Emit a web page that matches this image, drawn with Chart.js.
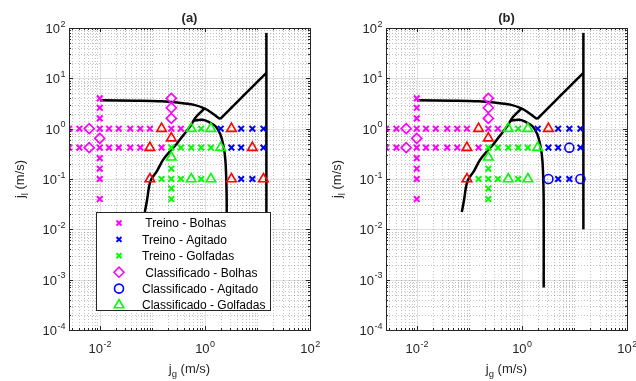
<!DOCTYPE html>
<html>
<head>
<meta charset="utf-8">
<script src="https://cdn.jsdelivr.net/npm/chart.js@4.4.1/dist/chart.umd.min.js"></script>
<style>
  body { margin: 0; background: #fff; }
  .painel { position: absolute; top: 0; height: 381px; }
</style>
</head>
<body>
<div class="painel" style="left:0;width:330px"><canvas id="graficoA" width="330" height="381"></canvas></div>
<div class="painel" style="left:317px;width:319px"><canvas id="graficoB" width="319" height="381"></canvas></div>
<script>
// limites dos eixos e ticks rotulados
const X_MIN = 0.0026, X_MAX = 100;
const Y_MIN = 1e-4, Y_MAX = 100;
const xTicks = [1e-2, 1, 1e2];
const yTicks = [1e-4, 1e-3, 1e-2, 1e-1, 1, 1e1, 1e2];

// pontos de treino [jg, jl] (m/s)
const treinoBolhas = [
    [0.0026, 1.0], [0.0041, 1.0], [0.01, 1.0], [0.015, 1.0], [0.023, 1.0], [0.038, 1.0],
    [0.059, 1.0], [0.09, 1.0], [0.23, 1.0], [0.35, 1.0],
    [0.0026, 0.42], [0.0041, 0.42], [0.01, 0.42], [0.015, 0.42], [0.023, 0.42], [0.038, 0.42],
    [0.059, 0.42], [0.15, 0.42],
    [0.01, 4.0], [0.01, 2.6], [0.01, 1.6], [0.01, 0.26], [0.01, 0.16], [0.01, 0.1], [0.01, 0.04]
];
const treinoAgitado = [
    [2.0, 1.0], [4.9, 1.0], [8.0, 1.0], [13, 1.0],
    [3.2, 0.42], [4.9, 0.42], [13, 0.42],
    [4.9, 0.1], [8.0, 0.1]
];
const treinoGolfadas = [
    [0.85, 1.0],
    [0.23, 0.42], [0.35, 0.42], [0.55, 0.42], [0.85, 0.42], [1.3, 0.42],
    [0.15, 0.1], [0.23, 0.1], [0.35, 0.1], [0.85, 0.1],
    [0.23, 0.16], [0.23, 0.065], [0.23, 0.04]
];

// pontos classificados
const classBolhas = [[0.0063, 1.0], [0.0063, 0.42], [0.01, 0.64], [0.23, 4.0], [0.23, 2.6], [0.23, 1.6]];
const classGolfadas = [[0.55, 1.0], [1.3, 1.0], [2.0, 0.42], [0.23, 0.27], [0.55, 0.1], [1.3, 0.1]];
const classAgitadoA = [];
const classAgitadoB = [[8.0, 0.42], [3.2, 0.1], [13, 0.1]];
const errosA = [[0.15, 1.0], [3.2, 1.0], [0.09, 0.42], [8.0, 0.42], [0.09, 0.1], [3.2, 0.1], [13, 0.1], [0.23, 0.65]];
const errosB = [[0.15, 1.0], [3.2, 1.0], [0.09, 0.42], [0.09, 0.1], [0.23, 0.65]];

// fronteiras de transicao
const curvaSuperior = [[0.01, 3.66], [0.05, 3.6], [0.15, 3.5], [0.3, 3.3], [0.6, 3.0], [1.0, 2.5], [1.4, 2.0], [1.95, 1.55]];
const retaAgitado = [[1.95, 1.55], [14.8, 12.9]];
const retaVertical = [[14.8, 0.01], [14.8, 80]];
const curvaEsquerda = [[0.072, 0.022], [0.079, 0.037], [0.092, 0.09], [0.123, 0.145], [0.16, 0.24], [0.22, 0.36],
    [0.3, 0.52], [0.4, 0.77], [0.55, 1.2], [0.66, 1.65], [0.98, 2.5]];
const cupula = [[0.6, 1.45], [0.9, 1.5], [1.2, 1.35], [1.58, 1.13], [1.97, 0.77], [2.29, 0.42], [2.46, 0.23],
    [2.55, 0.1], [2.6, 0.037], [2.6, 0.0007]];

const FONTE = '"Liberation Sans", Arial, sans-serif';
const COR_EIXO = '#262626';

const pts = (arr) => arr.map(p => ({ x: p[0], y: p[1] }));

const marcador = (label, data, estilo, cor, raio, borda, legenda = true) => ({
    label: label,
    data: pts(data),
    pointStyle: estilo,
    pointRadius: raio,
    pointHoverRadius: raio,
    pointBorderWidth: borda,
    pointBorderColor: cor,
    pointBackgroundColor: 'rgba(0,0,0,0)',
    showLine: false,
    naLegenda: legenda
});

const linha = (data) => ({
    label: '',
    data: pts(data),
    showLine: true,
    borderColor: '#000',
    borderWidth: 2.5,
    pointRadius: 0,
    tension: 0.35,
    fill: false,
    naLegenda: false
});

const potencia = (ctx, val, x, y, alinhar) => {
    const e = String(Math.round(Math.log10(val)));
    ctx.font = '13px ' + FONTE;
    const w1 = ctx.measureText('10').width;
    ctx.font = '9px ' + FONTE;
    const w2 = ctx.measureText(e).width;
    const x0 = alinhar === 'center' ? x - (w1 + w2) / 2 : x - (w1 + w2);
    ctx.textAlign = 'left';
    ctx.textBaseline = 'alphabetic';
    ctx.font = '13px ' + FONTE;
    ctx.fillText('10', x0, y);
    ctx.font = '9px ' + FONTE;
    ctx.fillText(e, x0 + w1 + 0.5, y - 6.5);
};

const subscrito = (ctx, base, sub, resto, x, y) => {
    ctx.textAlign = 'left';
    ctx.textBaseline = 'alphabetic';
    ctx.font = '13px ' + FONTE;
    const w1 = ctx.measureText(base).width;
    const w3 = ctx.measureText(resto).width;
    ctx.font = '9.5px ' + FONTE;
    const w2 = ctx.measureText(sub).width;
    const x0 = x - (w1 + w2 + w3) / 2;
    ctx.font = '13px ' + FONTE;
    ctx.fillText(base, x0, y);
    ctx.fillText(resto, x0 + w1 + w2, y);
    ctx.font = '9.5px ' + FONTE;
    ctx.fillText(sub, x0 + w1, y + 4);
};

const moldura = {
    id: 'moldura',
    beforeDatasetsDraw(chart) {
        const { ctx, chartArea: a, scales: { x, y } } = chart;
        ctx.save();
        ctx.lineWidth = 1;
        // grade secundaria pontilhada
        ctx.strokeStyle = 'rgba(38,38,38,0.28)';
        ctx.setLineDash([1, 2]);
        for (let k = -3; k <= 2; k++) {
            for (let m = 1; m <= 9; m++) {
                const v = m * Math.pow(10, k);
                if (v <= X_MIN || v >= X_MAX || xTicks.some(t => Math.abs(t - v) / t < 1e-6)) continue;
                const px = Math.round(x.getPixelForValue(v)) + 0.5;
                ctx.beginPath(); ctx.moveTo(px, a.top); ctx.lineTo(px, a.bottom); ctx.stroke();
            }
        }
        for (let k = -4; k <= 1; k++) {
            for (let m = 2; m <= 9; m++) {
                const v = m * Math.pow(10, k);
                const py = Math.round(y.getPixelForValue(v)) + 0.5;
                ctx.beginPath(); ctx.moveTo(a.left, py); ctx.lineTo(a.right, py); ctx.stroke();
            }
        }
        // grade principal
        ctx.setLineDash([]);
        ctx.strokeStyle = 'rgba(38,38,38,0.14)';
        xTicks.forEach(v => {
            const px = Math.round(x.getPixelForValue(v)) + 0.5;
            ctx.beginPath(); ctx.moveTo(px, a.top); ctx.lineTo(px, a.bottom); ctx.stroke();
        });
        yTicks.forEach(v => {
            const py = Math.round(y.getPixelForValue(v)) + 0.5;
            ctx.beginPath(); ctx.moveTo(a.left, py); ctx.lineTo(a.right, py); ctx.stroke();
        });
        ctx.restore();
    },
    afterDraw(chart, args, opts) {
        const { ctx, chartArea: a, scales: { x, y } } = chart;
        ctx.save();
        ctx.strokeStyle = COR_EIXO;
        ctx.fillStyle = COR_EIXO;
        ctx.lineWidth = 1;
        ctx.setLineDash([]);

        // ticks internos
        const tickX = (v, len) => {
            const px = Math.round(x.getPixelForValue(v)) + 0.5;
            ctx.beginPath();
            ctx.moveTo(px, a.bottom); ctx.lineTo(px, a.bottom - len);
            ctx.moveTo(px, a.top); ctx.lineTo(px, a.top + len);
            ctx.stroke();
        };
        const tickY = (v, len) => {
            const py = Math.round(y.getPixelForValue(v)) + 0.5;
            ctx.beginPath();
            ctx.moveTo(a.left, py); ctx.lineTo(a.left + len, py);
            ctx.moveTo(a.right, py); ctx.lineTo(a.right - len, py);
            ctx.stroke();
        };
        for (let k = -3; k <= 2; k++) {
            for (let m = 1; m <= 9; m++) {
                const v = m * Math.pow(10, k);
                if (v <= X_MIN || v >= X_MAX) continue;
                tickX(v, xTicks.some(t => Math.abs(t - v) / t < 1e-6) ? 4 : 2);
            }
        }
        for (let k = -4; k <= 1; k++) {
            for (let m = 1; m <= 9; m++) {
                const v = m * Math.pow(10, k);
                if (v <= Y_MIN) continue;
                tickY(v, m === 1 ? 4 : 2);
            }
        }

        // caixa dos eixos
        ctx.strokeRect(Math.round(a.left) + 0.5, Math.round(a.top) + 0.5,
            Math.round(a.right - a.left), Math.round(a.bottom - a.top));

        // rotulos dos ticks
        xTicks.forEach(v => potencia(ctx, v, x.getPixelForValue(v), a.bottom + 23, 'center'));
        yTicks.forEach(v => potencia(ctx, v, a.left - 4, y.getPixelForValue(v) + 5, 'right'));

        // titulos
        const cx = (a.left + a.right) / 2;
        subscrito(ctx, 'j', 'g', ' (m/s)', cx, a.bottom + 43);
        ctx.save();
        ctx.translate(a.left - 45, (a.top + a.bottom) / 2);
        ctx.rotate(-Math.PI / 2);
        subscrito(ctx, 'j', 'l', ' (m/s)', 0, 0);
        ctx.restore();
        ctx.font = 'bold 13px ' + FONTE;
        ctx.textAlign = 'center';
        ctx.textBaseline = 'alphabetic';
        ctx.fillText(opts.titulo, cx, 22);

        // legenda
        if (opts.legenda) {
            const L = opts.legenda;
            ctx.fillStyle = '#fff';
            ctx.fillRect(L.x, L.y, L.w, L.h);
            ctx.strokeStyle = COR_EIXO;
            ctx.strokeRect(L.x + 0.5, L.y + 0.5, L.w, L.h);
            const itens = chart.data.datasets.filter(d => d.naLegenda);
            itens.forEach((d, i) => {
                const yy = L.y + 11 + i * 16.4;
                ctx.strokeStyle = d.pointBorderColor;
                ctx.fillStyle = 'rgba(0,0,0,0)';
                ctx.lineWidth = d.pointBorderWidth;
                Chart.helpers.drawPoint(ctx, {
                    pointStyle: d.pointStyle,
                    radius: d.pointStyle === 'crossRot' ? 3.5 : d.pointRadius,
                    borderWidth: d.pointBorderWidth,
                    rotation: 0
                }, L.x + 23, yy);
                ctx.fillStyle = '#000';
                ctx.font = '12px ' + FONTE;
                ctx.textAlign = 'left';
                ctx.textBaseline = 'middle';
                ctx.fillText(d.label, L.x + 46, yy + 1);
            });
        }
        ctx.restore();
    }
};

const criarGrafico = (id, classAgitado, erros, titulo, legenda, padDireita) => {
    const ctx = document.getElementById(id).getContext('2d');
    new Chart(ctx, {
        type: 'scatter',
        data: {
            datasets: [
                marcador(' Treino - Bolhas', treinoBolhas, 'crossRot', '#ff00ff', 4, 2),
                marcador('Treino - Agitado', treinoAgitado, 'crossRot', '#0000ff', 4, 2),
                marcador('Treino - Golfadas', treinoGolfadas, 'crossRot', '#00ff00', 4, 2),
                marcador(' Classificado - Bolhas', classBolhas, 'rectRot', '#ff00ff', 5, 1.6),
                marcador('Classificado - Agitado', classAgitado, 'circle', '#0000ff', 4.5, 1.6),
                marcador('Classificado - Golfadas', classGolfadas, 'triangle', '#00ff00', 5.5, 1.6),
                marcador('erros', erros, 'triangle', '#ff0000', 5.5, 1.6, false),
                linha(curvaSuperior),
                linha(retaAgitado),
                linha(retaVertical),
                linha(curvaEsquerda),
                linha(cupula)
            ]
        },
        options: {
            responsive: false,
            devicePixelRatio: 1,
            animation: false,
            layout: {
                padding: { left: 69, right: padDireita, top: 28, bottom: 51 }
            },
            scales: {
                x: { type: 'logarithmic', min: X_MIN, max: X_MAX, display: false },
                y: { type: 'logarithmic', min: Y_MIN, max: Y_MAX, display: false }
            },
            plugins: {
                legend: { display: false },
                tooltip: { enabled: false },
                moldura: { titulo: titulo, legenda: legenda }
            }
        },
        plugins: [moldura]
    });
};

criarGrafico('graficoA', classAgitadoA, errosA, '(a)', { x: 96, y: 212, w: 174, h: 98 }, 20);
criarGrafico('graficoB', classAgitadoB, errosB, '(b)', null, 9);
</script>
</body>
</html>
